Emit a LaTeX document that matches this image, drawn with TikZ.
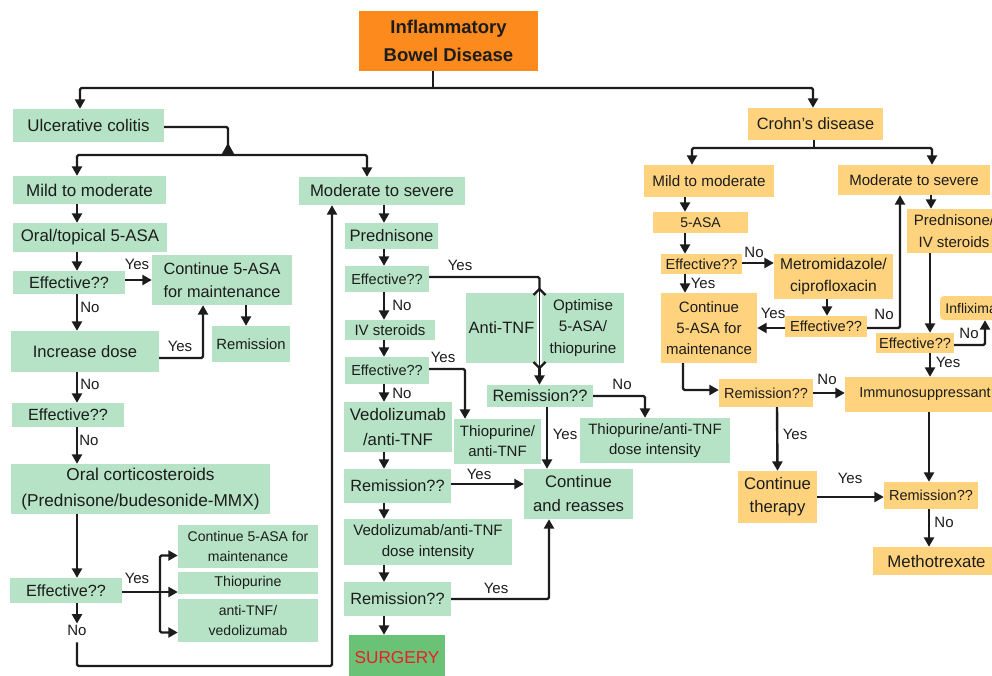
\documentclass[tikz,border=0pt]{standalone}
\usepackage{fontspec}
\setmainfont{Liberation Sans}
\usetikzlibrary{arrows.meta}
\definecolor{ink}{RGB}{28,28,28}
\definecolor{gfill}{RGB}{182,227,197}
\definecolor{ofill}{RGB}{255,211,125}
\definecolor{topfill}{RGB}{252,138,28}
\definecolor{surgfill}{RGB}{106,194,118}
\definecolor{surgtext}{RGB}{235,30,40}
\newcommand\fs[2]{\fontsize{#1pt}{#2pt}\selectfont}
\begin{document}
\begin{tikzpicture}[x=1pt,y=-1pt,
 box/.style={inner sep=0pt, align=center, text=ink},
 gbox/.style={box, fill=gfill},
 obox/.style={box, fill=ofill},
 lab/.style={inner sep=0pt, text=ink, font=\fs{15}{18}},
 line/.style={draw=ink, line width=2.4pt, rounded corners=1.5pt},
 arr/.style={line, -{Triangle[width=10pt,length=9.5pt]}},
 ]
\useasboundingbox (0,0) rectangle (992,675);
\clip (0,0) rectangle (992,675);
\fill[white] (0,0) rectangle (992,675);

% ---------- nodes ----------
\node[box, fill=topfill, minimum width=179pt, minimum height=60pt, font=\bfseries\fs{18.5}{28}] (ibd) at (448.5,41) {Inflammatory\\Bowel Disease};

% Ulcerative colitis
\node[gbox, minimum width=151pt, minimum height=33pt, font=\fs{16.9}{24}] (uc) at (88.5,125.5) {Ulcerative colitis};
\node[gbox, minimum width=153pt, minimum height=28pt, font=\fs{17}{24}] (ucmild) at (89.5,190) {Mild to moderate};
\node[gbox, minimum width=166pt, minimum height=28pt, font=\fs{16.7}{24}] (ucsev) at (382,191) {Moderate to severe};
\node[gbox, minimum width=154pt, minimum height=29pt, font=\fs{16.8}{24}] (oral) at (90,237.5) {Oral/topical 5-ASA};
\node[gbox, minimum width=112pt, minimum height=23pt, font=\fs{16.2}{23}] (eff1) at (69,282.5) {Effective??};
\node[gbox, minimum width=140pt, minimum height=50pt, font=\fs{16.3}{23}] (cont1) at (222,280) {Continue 5-ASA\\for maintenance};
\node[gbox, minimum width=78pt, minimum height=36pt, font=\fs{14.8}{21}] (remis) at (251,344) {Remission};
\node[gbox, minimum width=148pt, minimum height=41pt, font=\fs{16.6}{23}] (incr) at (85,351.5) {Increase dose};
\node[gbox, minimum width=112pt, minimum height=24pt, font=\fs{16.2}{23}] (eff2) at (68,415) {Effective??};
\node[gbox, minimum width=259pt, minimum height=50pt, font=\fs{17.2}{26.5}] (cort) at (140.5,489) {Oral corticosteroids\\(Prednisone/budesonide-MMX)};
\node[gbox, minimum width=112pt, minimum height=25pt, font=\fs{16.2}{23}] (eff3) at (66,590.5) {Effective??};
\node[gbox, minimum width=140pt, minimum height=43pt, font=\fs{14}{20}] (cont2) at (248,546.5) {Continue 5-ASA for\\maintenance};
\node[gbox, minimum width=140pt, minimum height=22pt, font=\fs{14.2}{20}] (thio) at (248,583) {Thiopurine};
\node[gbox, minimum width=140pt, minimum height=43pt, font=\fs{14}{20.5}] (antitnf) at (248,620.5) {anti-TNF/\\vedolizumab};

\node[gbox, minimum width=93pt, minimum height=26pt, font=\fs{16.6}{23}] (pred) at (391.5,236) {Prednisone};
\node[gbox, minimum width=84pt, minimum height=26pt, font=\fs{14.5}{20}] (eff4) at (387,279) {Effective??};
\node[gbox, minimum width=90pt, minimum height=20pt, font=\fs{15}{20}] (ivst) at (390,330) {IV steroids};
\node[gbox, minimum width=84pt, minimum height=27pt, font=\fs{14.5}{20}] (eff5) at (387,370.5) {Effective??};
\node[gbox, minimum width=108pt, minimum height=50pt, font=\fs{16.8}{25}] (vedo) at (398,427) {Vedolizumab\\/anti-TNF};
\node[gbox, minimum width=107pt, minimum height=34pt, font=\fs{16.3}{23}] (rem1) at (397.5,486) {Remission??};
\node[gbox, minimum width=168pt, minimum height=46pt, font=\fs{15.1}{21}] (vedoint) at (428,542) {Vedolizumab/anti-TNF\\dose intensity};
\node[gbox, minimum width=107pt, minimum height=34pt, font=\fs{16.3}{23}] (rem2) at (397.5,599) {Remission??};
\node[box, fill=surgfill, text=surgtext, minimum width=96pt, minimum height=45pt, font=\fs{17.2}{23}] (surg) at (397,657.5) {SURGERY};
\node[gbox, minimum width=87pt, minimum height=45pt, font=\fs{15}{20}] (thioanti) at (497.5,441.5) {Thiopurine/\\anti-TNF};
\node[gbox, minimum width=71pt, minimum height=70pt, font=\fs{16.4}{23}] (atnf) at (501.5,328) {Anti-TNF};
\node[gbox, minimum width=82pt, minimum height=70pt, font=\fs{15.2}{21.7}] (optim) at (583,328) {Optimise\\5-ASA/\\thiopurine};
\node[gbox, minimum width=106pt, minimum height=22pt, font=\fs{16.4}{23}] (remmid) at (540,396) {Remission??};
\node[gbox, minimum width=150pt, minimum height=45pt, font=\fs{15}{20}] (thiodose) at (655,440.5) {Thiopurine/anti-TNF\\dose intensity};
\node[gbox, minimum width=109pt, minimum height=50pt, font=\fs{16.7}{24}] (contre) at (578.5,494) {Continue\\and reasses};

% Crohn's disease
\node[obox, minimum width=135pt, minimum height=32pt, font=\fs{16.4}{23}] (cd) at (815.5,124) {Crohn's disease};
\node[obox, minimum width=130pt, minimum height=32pt, font=\fs{15.2}{21}] (cdmild) at (709,181) {Mild to moderate};
\node[obox, minimum width=152pt, minimum height=30pt, font=\fs{15}{21}] (cdsev) at (914,180) {Moderate to severe};
\node[obox, minimum width=95pt, minimum height=21pt, font=\fs{14}{20}] (asa) at (700.5,222.5) {5-ASA};
\node[obox, minimum width=81pt, minimum height=20pt, font=\fs{14.6}{20}] (ceff1) at (701.5,264) {Effective??};
\node[obox, minimum width=119pt, minimum height=45pt, font=\fs{15.6}{21.7}] (metro) at (833.5,276.5) {Metromidazole/\\ciprofloxacin};
\node[obox, minimum width=82pt, minimum height=21pt, font=\fs{14.6}{20}] (ceff2) at (826,326.5) {Effective??};
\node[obox, minimum width=96pt, minimum height=70pt, font=\fs{15}{21.3}] (ccont) at (709,328) {Continue\\5-ASA for\\maintenance};
\node[obox, minimum width=94pt, minimum height=44pt, font=\fs{15}{21.7}] (cpred) at (954,231) {Prednisone/\\IV steroids};
\node[obox, minimum width=78pt, minimum height=20pt, font=\fs{14.6}{20}] (ceff3) at (915,343) {Effective??};
\node[obox, rounded corners=4pt, minimum width=70pt, minimum height=24pt, font=\fs{14}{20}] (inflix) at (975,308) {Infliximab};
\node[obox, minimum width=160pt, minimum height=35pt, font=\fs{14.5}{20}] (immuno) at (925,394.5) {Immunosuppressant};
\node[obox, minimum width=94pt, minimum height=28pt, font=\fs{14.5}{20}] (crem1) at (766,393) {Remission??};
\node[obox, minimum width=79pt, minimum height=52pt, font=\fs{16.7}{23.3}] (ccth) at (777.5,497) {Continue\\therapy};
\node[obox, minimum width=94pt, minimum height=27pt, font=\fs{14.5}{20}] (crem2) at (931,495.5) {Remission??};
\node[obox, minimum width=127pt, minimum height=28pt, font=\fs{16.8}{23}] (metho) at (936.5,561) {Methotrexate};

% ---------- connectors ----------
\coordinate (j0) at (433,88);
\draw[line] ([xshift=-15.5pt]ibd.south) -- (j0);
\draw[arr] (j0) -| ([xshift=-8.5pt]uc.north);
\draw[arr] (j0) -| ([xshift=-2.5pt]cd.north);

\coordinate (j1) at (228,155);
\draw[line] ([yshift=-1.5pt]uc.east) -| (j1);
\fill[ink] (221,155.5) -- (228,143) -- (235,155.5) -- cycle;
\draw[arr] (j1) -| ([xshift=-12.5pt]ucmild.north);
\draw[arr] (j1) -| ([xshift=-15pt]ucsev.north);

\draw[arr] ([xshift=-12.5pt]ucmild.south) -- ([xshift=-13pt]oral.north);
\draw[arr] ([xshift=-13pt]oral.south) -- ([xshift=8pt]eff1.north);
\draw[arr] ([xshift=8pt]eff1.south) -- ([xshift=-8pt]incr.north);
\draw[arr] ([xshift=-8pt]incr.south) -- ([xshift=9pt]eff2.north);
\draw[arr] ([xshift=9pt]eff2.south) -- ([xshift=-63.5pt]cort.north);
\draw[arr] ([xshift=-63.5pt]cort.south) -- ([xshift=11pt]eff3.north);
\node[lab] (noe3) at (77,630) {No};
\draw[arr] ([xshift=11pt]eff3.south) -- ([yshift=1pt]noe3.north);
\coordinate (j2) at (77,666);
\draw[arr] ([yshift=-7pt]noe3.south) -- (j2) -| ([xshift=-50pt]ucsev.south);

\draw[arr] ([yshift=2.5pt]eff1.east) -- (cont1.west);
\draw[arr] ([xshift=24pt]cont1.south) -- ([xshift=-5pt]remis.north);
\draw[arr] ([yshift=-6.5pt]incr.east) -| ([xshift=-19pt]cont1.south);

\coordinate (jb) at (160,592);
\draw[line] ([yshift=-1.5pt]eff3.east) -- (jb);
\draw[arr] (jb) -- (jb -| thio.west);
\draw[arr] (jb) |- ([yshift=-9pt]cont2.west);
\draw[arr] (jb) |- ([yshift=-12pt]antitnf.west);

\draw[arr] ([xshift=2pt]ucsev.south) -- ([xshift=-7.5pt]pred.north);
\draw[arr] ([xshift=-7.5pt]pred.south) -- ([xshift=-3pt]eff4.north);
\draw[arr] ([xshift=-3pt]eff4.south) -- ([xshift=-6pt]ivst.north);
\draw[arr] ([xshift=-6pt]ivst.south) -- ([xshift=-3pt]eff5.north);
\draw[arr] ([xshift=-3pt]eff5.south) -- ([xshift=-14pt]vedo.north);
\draw[arr] ([xshift=-14pt]vedo.south) -- ([xshift=-13.5pt]rem1.north);
\draw[arr] ([xshift=-13.5pt]rem1.south) -- ([xshift=-44pt]vedoint.north);
\draw[arr] ([xshift=-44pt]vedoint.south) -- ([xshift=-13.5pt]rem2.north);
\draw[arr] ([xshift=-13.5pt]rem2.south) -- ([xshift=-13pt]surg.north);

\coordinate (fk1) at (539.5,289);
\coordinate (fk2) at (539.5,368);
\draw[line] ([yshift=2pt]eff4.east) -| (fk1);
\draw[line] (fk1) -- ++(-6,6) (fk1) -- ++(6,6);
\draw[line, line width=1.6pt] (fk1) -- (fk2);
\draw[line] (fk2) -- ++(-6,-6) (fk2) -- ++(6,-6);
\draw[arr] (fk2) -- (fk2 |- remmid.north);

\draw[arr] (remmid.east) -| ([xshift=-10pt]thiodose.north);
\draw[arr] ([xshift=7pt]remmid.south) -- ([xshift=-31.5pt]contre.north);
\draw[arr] ([yshift=1.5pt]eff5.east) -| ([xshift=-32.5pt]thioanti.north);
\draw[arr] ([yshift=2pt]rem1.east) -- ([yshift=10pt]contre.west);
\draw[arr] (rem2.east) -| ([xshift=-29.5pt]contre.south);

\coordinate (j3) at (814,148);
\draw[line] ([xshift=-1.5pt]cd.south) -- (j3);
\draw[arr] (j3) -| ([xshift=-17pt]cdmild.north);
\draw[arr] (j3) -| ([xshift=18pt]cdsev.north);
\draw[arr] ([xshift=-24pt]cdmild.south) -- ([xshift=-15.5pt]asa.north);
\draw[arr] ([xshift=-15.5pt]asa.south) -- ([xshift=-16.5pt]ceff1.north);
\draw[arr] ([xshift=-16.5pt]ceff1.south) -- ([xshift=-24pt]ccont.north);
\draw[arr] ([yshift=1pt]ceff1.east) -- ([yshift=13.5pt]metro.west);
\draw[arr] ([xshift=-6.5pt]metro.south) -- ([xshift=1pt]ceff2.north);
\draw[arr] ([yshift=-1.5pt]ceff2.west) -- (ccont.east);
\draw[arr] ([yshift=-1.5pt]ceff2.east) -| ([xshift=-14pt]cdsev.south);
\draw[arr] ([xshift=17pt]cdsev.south) -- ([xshift=-23pt]cpred.north);
\draw[arr] ([xshift=-24pt]cpred.south) -- ([xshift=15pt]ceff3.north);
\draw[arr] ([yshift=-2pt]ceff3.east) -| ([xshift=10pt]inflix.south);
\draw[arr] ([xshift=15pt]ceff3.south) -- ([xshift=5pt]immuno.north);
\draw[arr] ([xshift=-26pt]ccont.south) |- ([yshift=3pt]crem1.west);
\draw[arr] (crem1.east) -- (immuno.west |- crem1.east);
\draw[arr] ([xshift=11pt]crem1.south) -- (ccth.north);
\draw[arr] (ccth.east) -- (crem2.west |- ccth.east);
\draw[arr] ([xshift=4pt]immuno.south) -- ([xshift=-2pt]crem2.north);
\draw[arr] ([xshift=-2pt]crem2.south) -- ([xshift=-7.5pt]metho.north);

% ---------- labels ----------
\node[lab] at (137,264) {Yes};
\node[lab] at (90,307) {No};
\node[lab] at (180,346) {Yes};
\node[lab] at (90,384) {No};
\node[lab] at (89,440) {No};
\node[lab] at (137,578) {Yes};
\node[lab] at (460,265) {Yes};
\node[lab] at (402,305) {No};
\node[lab] at (443,357) {Yes};
\node[lab] at (402,393) {No};
\node[lab] at (622,384) {No};
\node[lab] at (565,434) {Yes};
\node[lab] at (479,474) {Yes};
\node[lab] at (496,588) {Yes};
\node[lab] at (754,252) {No};
\node[lab] at (703,283) {Yes};
\node[lab] at (773,313) {Yes};
\node[lab] at (884,314) {No};
\node[lab] at (969,333) {No};
\node[lab] at (948,362) {Yes};
\node[lab] at (827,379) {No};
\node[lab] at (795,434) {Yes};
\node[lab] at (850,478) {Yes};
\node[lab] at (944,522) {No};
\end{tikzpicture}
\end{document}
